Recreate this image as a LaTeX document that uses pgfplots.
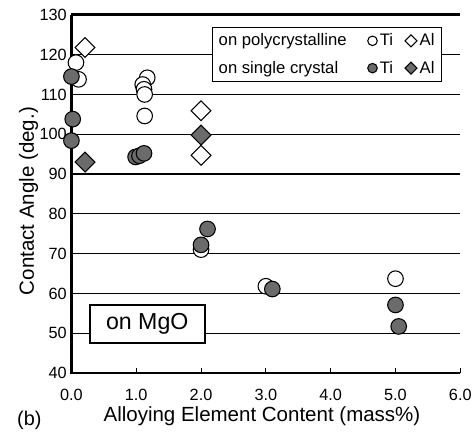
\documentclass[border=0pt]{standalone}
\usepackage{pgfplots}
\usepackage{pgfplotstable}
\pgfplotsset{compat=1.18}
\usepackage{fontspec}
\setmainfont{Liberation Sans}

% Ti on polycrystalline MgO (open circles)
\pgfplotstableread{
x y
0.07 118.0
0.11 113.8
1.17 114.2
1.10 112.5
1.12 111.3
1.13 110.0
1.13 104.6
2.00 71.0
3.00 61.8
5.00 63.7
}\tiPoly
% Ti on single crystal MgO (filled circles)
\pgfplotstableread{
x y
0.00 114.5
0.02 103.8
0.00 98.4
0.99 94.3
1.05 94.6
1.12 95.2
2.10 76.2
2.00 72.2
3.10 61.1
5.00 57.1
5.05 51.7
}\tiSingle
% Al on polycrystalline MgO (open diamonds)
\pgfplotstableread{
x y
0.21 121.8
2.00 105.9
2.00 94.7
}\alPoly
% Al on single crystal MgO (filled diamonds)
\pgfplotstableread{
x y
0.21 93.0
2.00 99.8
}\alSingle

\definecolor{markgray}{gray}{0.42}

\begin{document}
\begin{tikzpicture}
\begin{axis}[
  name=main,
  scale only axis,
  width=294pt, height=270.75pt,
  xmin=0, xmax=6, ymin=40, ymax=130,
  clip=false,
  axis line style={draw=none},
  xtick={0,1,...,6}, ytick={40,50,...,130},
  xtick pos=lower,
  xticklabel style={/pgf/number format/fixed,/pgf/number format/fixed zerofill,/pgf/number format/precision=1, yshift=-9pt},
  /pgf/number format/assume math mode=true,
  tick label style={font=\fontsize{12.3}{14}\selectfont},
  x tick style={black, line width=0.75pt},
  major tick length=3.75pt,
  y tick style={draw=none},
  ymajorgrids,
  grid style={black, line width=0.7pt},
  xlabel={Alloying Element Content (mass\%)},
  ylabel={Contact Angle (deg.)},
  label style={font=\fontsize{15.5}{18}\selectfont},
  xlabel style={at={(rel axis cs:0.49,-0.122)}, anchor=center},
  ylabel style={at={(rel axis cs:-0.11,0.48)}, anchor=center},
  legend columns=3,
  legend cell align=left,
  legend style={at={(rel axis cs:0.952,0.967)}, anchor=north east,
    draw=black, line width=0.75pt, fill=white,
    font=\fontsize{12.6}{15}\selectfont,
    row sep=6pt, inner xsep=3pt, inner ysep=3pt,
    /tikz/column 2/.style={column sep=14pt},
    /tikz/column 4/.style={column sep=7pt}},
  legend entries={on polycrystalline, Ti, Al, on single crystal, Ti, Al},
]
% legend images
\addlegendimage{empty legend}
\addlegendimage{only marks, mark=*, mark size=3.6pt, mark options={fill=white, draw=black, line width=0.8pt}}
\addlegendimage{only marks, mark=square*, mark size=3.2pt, mark options={rotate=45, fill=white, draw=black, line width=0.8pt}}
\addlegendimage{empty legend}
\addlegendimage{only marks, mark=*, mark size=3.6pt, mark options={fill=markgray, draw=black, line width=0.8pt}}
\addlegendimage{only marks, mark=square*, mark size=3.2pt, mark options={rotate=45, fill=markgray, draw=black, line width=0.8pt}}

% frame: left, bottom and top borders, heavy rule at 90 deg
\draw[line width=2.2pt] (axis cs:0,130) -- (axis cs:6,130);
\draw[line width=2.2pt] (axis cs:0,90) -- (axis cs:6,90);
\draw[line width=2.2pt] (axis cs:6,40) -- (axis cs:0,40) -- (axis cs:0,130);

\node[draw=black, line width=1.6pt, fill=white, minimum width=87pt, minimum height=29pt,
      font=\fontsize{17.5}{20}\selectfont] at (axis cs:1.17,52.3) {on MgO};

\addplot[forget plot, only marks, mark=*, mark size=5.9pt, mark options={fill=white, draw=black, line width=0.8pt}] table {\tiPoly};
\addplot[forget plot, only marks, mark=square*, mark size=5.3pt, mark options={rotate=45, fill=white, draw=black, line width=0.8pt}] table {\alPoly};
\addplot[forget plot, only marks, mark=*, mark size=5.9pt, mark options={fill=markgray, draw=black, line width=0.8pt}] table {\tiSingle};
\addplot[forget plot, only marks, mark=square*, mark size=5.3pt, mark options={rotate=45, fill=markgray, draw=black, line width=0.8pt}] table {\alSingle};

\node[font=\fontsize{15}{18}\selectfont] at (axis cs:-0.65,28.2) {(b)};
\end{axis}
\path ([shift={(-54pt,-42pt)}]main.south west) rectangle ([shift={(9pt,11.25pt)}]main.north east);
\end{tikzpicture}
\end{document}
